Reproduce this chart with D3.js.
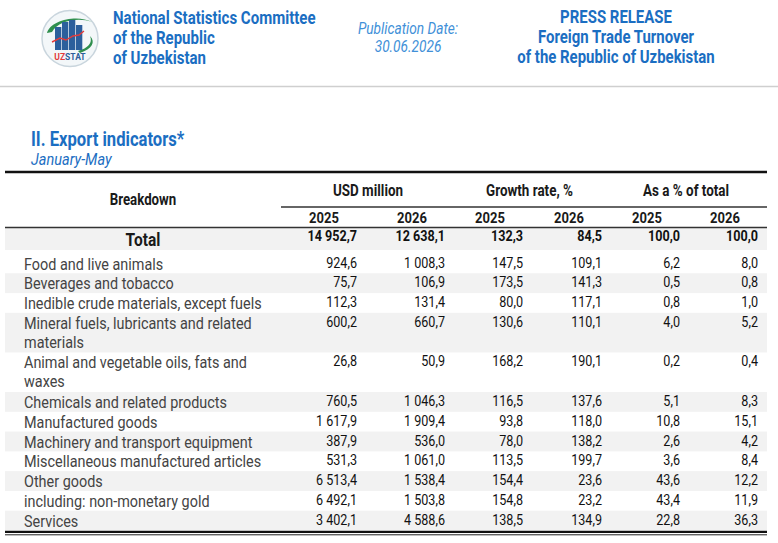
<!DOCTYPE html>
<html><head><meta charset="utf-8">
<script src="https://cdn.jsdelivr.net/npm/d3@7"></script>
<style>html,body{margin:0;padding:0;background:#fff;}svg{display:block;}</style>
</head><body>
<script>
// ---------- DATA ----------
const categories = [
  "Total",
  "Food and live animals",
  "Beverages and tobacco",
  "Inedible crude materials, except fuels",
  "Mineral fuels, lubricants and related materials",
  "Animal and vegetable oils, fats and waxes",
  "Chemicals and related products",
  "Manufactured goods",
  "Machinery and transport equipment",
  "Miscellaneous manufactured articles",
  "Other goods",
  "including: non-monetary gold",
  "Services"
];
const usd2025    = [14952.7, 924.6, 75.7, 112.3, 600.2, 26.8, 760.5, 1617.9, 387.9, 531.3, 6513.4, 6492.1, 3402.1];
const usd2026    = [12638.1, 1008.3, 106.9, 131.4, 660.7, 50.9, 1046.3, 1909.4, 536.0, 1061.0, 1538.4, 1503.8, 4588.6];
const growth2025 = [132.3, 147.5, 173.5, 80.0, 130.6, 168.2, 116.5, 93.8, 78.0, 113.5, 154.4, 154.8, 138.5];
const growth2026 = [84.5, 109.1, 141.3, 117.1, 110.1, 190.1, 137.6, 118.0, 138.2, 199.7, 23.6, 23.2, 134.9];
const share2025  = [100.0, 6.2, 0.5, 0.8, 4.0, 0.2, 5.1, 10.8, 2.6, 3.6, 43.6, 43.4, 22.8];
const share2026  = [100.0, 8.0, 0.8, 1.0, 5.2, 0.4, 8.3, 15.1, 4.2, 8.4, 12.2, 11.9, 36.3];
const groupHeaders = ["USD million", "Growth rate, %", "As a % of total"];
const yearLabels = ["2025", "2026"];

// ---------- SETUP ----------
const W = 778, H = 543;
const CX = 0.84; // horizontal condense factor (condensed face look)
const FONT = "Roboto, 'Noto Sans', sans-serif";
const BLUE = "#1b6ec2", BLUE_LIGHT = "#4190d8";

const svg = d3.select("body").append("svg").attr("width", W).attr("height", H);

function txt(g, x, y, s, o = {}) {
  const cx = o.cx || CX;
  return g.append("text")
    .attr("transform", `translate(${x},${y}) scale(${cx},1)`)
    .attr("text-anchor", o.anchor || "start")
    .style("font-family", FONT)
    .style("font-size", (o.size || 15) + "px")
    .style("font-weight", o.weight || "normal")
    .style("font-style", o.style || "normal")
    .attr("fill", o.fill || "#1a1a1a")
    .text(s);
}

// ---------- PAGE HEADER ----------
const hdr = svg.append("g");
const logo = hdr.append("g");
logo.append("circle").attr("cx", 70).attr("cy", 38.5).attr("r", 28)
  .attr("fill", "#f3f7f9").attr("stroke", "#c9d5dd").attr("stroke-width", 1.5);
logo.append("path").attr("d", "M47,33 C50,20 78,14 92,22 C80,17 58,20 52,32 Z").attr("fill", "#2f8f4e");
logo.append("path").attr("d", "M80,53 C92,49 96,42 90,36 C93,43 88,48 78,51 Z").attr("fill", "#2f8f4e");
[[55,27],[62,22],[69,20],[76,25]].forEach(([x,t]) =>
  logo.append("rect").attr("x", x).attr("y", t).attr("width", 6.3).attr("height", 50 - t).attr("fill", "#2c5f9c"));
logo.append("polyline").attr("points", "52,42 60,38 66,40 73,36 79,35 84,31")
  .attr("fill", "none").attr("stroke", "#e23b3b").attr("stroke-width", 1.4);
const ut = logo.append("text").attr("x", 70).attr("y", 60).attr("text-anchor", "middle")
  .style("font-family", FONT).style("font-size", "8.5px").style("font-weight", "bold");
ut.append("tspan").attr("fill", "#e23b3b").text("UZ");
ut.append("tspan").attr("fill", "#2c5f9c").text("STAT");

["National Statistics Committee", "of the Republic", "of Uzbekistan"].forEach((s, i) =>
  txt(hdr, 113, 24 + i * 19.8, s, { size: 17.9, weight: "bold", fill: BLUE }));
txt(hdr, 408, 34, "Publication Date:", { size: 16.3, style: "italic", anchor: "middle", fill: BLUE_LIGHT });
txt(hdr, 408, 52, "30.06.2026", { size: 16.3, style: "italic", anchor: "middle", fill: BLUE_LIGHT });
["PRESS RELEASE", "Foreign Trade Turnover", "of the Republic of Uzbekistan"].forEach((s, i) =>
  txt(hdr, 616, 23 + i * 20, s, { size: 17.8, weight: "bold", anchor: "middle", fill: BLUE }));
hdr.append("line").attr("x1", 0).attr("x2", W).attr("y1", 86.5).attr("y2", 86.5)
  .attr("stroke", "#cfcfcf").attr("stroke-width", 1.5);

// ---------- TITLE ----------
txt(svg, 31, 146, "II. Export indicators*", { size: 19.8, weight: "bold", fill: BLUE });
txt(svg, 31, 165, "January-May", { size: 17.3, style: "italic", fill: BLUE });

// ---------- TABLE ----------
const L = 5, R = 767;
const colKeys = ["u25", "u26", "g25", "g26", "s25", "s26"];
const colRight = d3.scaleOrdinal().domain(colKeys).range([357, 445, 523, 602, 680, 758]);
const colValues = { u25: usd2025, u26: usd2026, g25: growth2025, g26: growth2026, s25: share2025, s26: share2026 };
const loc = d3.formatLocale({ decimal: ",", thousands: " ", grouping: [3], currency: ["", ""] });
const fmt = loc.format(",.1f");

const tbl = svg.append("g");

const LBL_SIZE = 16, LBL_CX = 0.9;
const WRAP = 248;
const meas = svg.append("text").style("font-family", FONT).style("font-size", LBL_SIZE + "px").attr("opacity", 0);
function wrap(s) {
  const words = s.split(" "); const lines = []; let cur = "";
  words.forEach(w => {
    const t = cur ? cur + " " + w : w;
    meas.text(t);
    if (meas.node().getComputedTextLength() * LBL_CX > WRAP && cur) { lines.push(cur); cur = w; }
    else cur = t;
  });
  lines.push(cur); return lines;
}
const rows = categories.map((c, i) => ({ i, label: c, lines: i === 0 ? [c] : wrap(c) }));
meas.remove();

const totalTop = 227.5, totalBot = 250, bodyTop = 253.5, bodyBottom = 530.5;
let acc = 0;
rows.slice(1).forEach(r => { r.u0 = acc; acc += r.lines.length; r.u1 = acc; });
const y = d3.scaleLinear().domain([0, acc]).range([bodyTop, bodyBottom]);
rows[0].top = totalTop; rows[0].bot = totalBot;
rows.slice(1).forEach(r => { r.top = y(r.u0); r.bot = y(r.u1); });

// stripes
tbl.selectAll("rect.stripe").data(rows.filter(r => r.i % 2 === 0)).join("rect")
  .attr("class", "stripe").attr("x", L).attr("width", R - L)
  .attr("y", r => r.top).attr("height", r => r.bot - r.top).attr("fill", "#f2f2f2");

// header
const hg = tbl.append("g");
txt(hg, 143, 205, "Breakdown", { size: 15.8, weight: "bold", anchor: "middle" });
groupHeaders.forEach((g, gi) => {
  const c = (colRight(colKeys[gi * 2]) - 33 + colRight(colKeys[gi * 2 + 1]) - 33) / 2;
  txt(hg, c, 196, g, { size: 16, weight: "bold", anchor: "middle" });
});
colKeys.forEach((k, ci) =>
  txt(hg, colRight(k) - 33, 223, yearLabels[ci % 2], { size: 15.5, weight: "bold", anchor: "middle" }));

// rules
tbl.append("line").attr("x1", L).attr("x2", R).attr("y1", 172).attr("y2", 172).attr("stroke", "#111").attr("stroke-width", 2.5);
tbl.append("line").attr("x1", 281).attr("x2", R).attr("y1", 207).attr("y2", 207).attr("stroke", "#333").attr("stroke-width", 1.4);
tbl.append("line").attr("x1", L).attr("x2", R).attr("y1", totalTop).attr("y2", totalTop).attr("stroke", "#333").attr("stroke-width", 1.4);
tbl.append("line").attr("x1", L).attr("x2", R).attr("y1", 531.8).attr("y2", 531.8).attr("stroke", "#111").attr("stroke-width", 2.2);
tbl.append("line").attr("x1", L).attr("x2", R).attr("y1", 534.8).attr("y2", 534.8).attr("stroke", "#222").attr("stroke-width", 1);

// rows
rows.forEach(r => {
  const g = tbl.append("g");
  if (r.i === 0) {
    txt(g, 143, r.top + 18.5, r.label, { size: 18.5, weight: "bold", anchor: "middle" });
    colKeys.forEach(k => txt(g, colRight(k), r.top + 13.5, fmt(colValues[k][r.i]), { size: 15, weight: "bold", anchor: "end", fill: "#111" }));
  } else {
    r.lines.forEach((ln, li) =>
      txt(g, 24, r.top + 16 + li * 19, ln, { size: LBL_SIZE, cx: LBL_CX, fill: "#444" }));
    colKeys.forEach(k => txt(g, colRight(k), r.top + 14, fmt(colValues[k][r.i]), { size: 15, anchor: "end", fill: "#111" }));
  }
});
</script>
</body></html>
